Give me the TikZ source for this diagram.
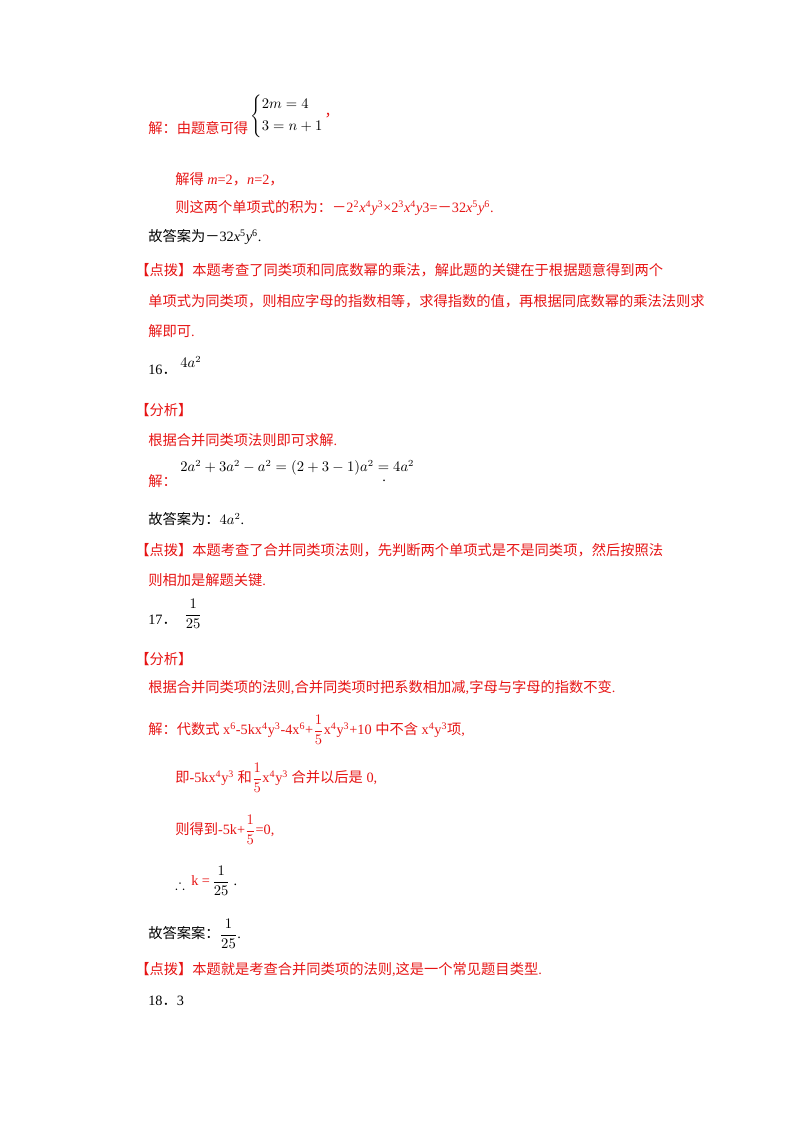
\documentclass[tikz,border=0pt]{standalone}
\usepackage{amsmath,amssymb}
\usepackage{fontspec}
\setmainfont{Liberation Serif}
\newfontfamily\cjk{Noto Sans CJK SC}
\newcommand{\zh}[1]{{\cjk #1}}
\newcommand{\sq}[1]{\textsuperscript{#1}}
\definecolor{ansred}{RGB}{230,20,20}
\begin{document}
\begin{tikzpicture}[x=0.75pt,y=-0.75pt,
  txt/.style={anchor=west,inner sep=0pt,font=\fontsize{10.7}{13}\selectfont},
  red txt/.style={txt,text=ansred},
  blk txt/.style={txt,text=black}]
  \useasboundingbox (0,0) rectangle (800,1132);
  % problem 15
  \node[red txt] (q15a) at (148,128) {\zh{解：由题意可得}};
  \node[blk txt] (q15sys) at (250,116) {$\left\{\begin{aligned}&2m=4\\&3=n+1\end{aligned}\right.$};
  \node[red txt] (q15b) at (q15sys.east) {\zh{，}};
  \node[red txt] (q15c) at (175,179) {\zh{解得} \textit{m}=2\zh{，}\textit{n}=2\zh{，}};
  \node[red txt] (q15d) at (175,208) {\zh{则这两个单项式的积为：－}2\sq{2}\textit{x}\sq{4}\textit{y}\sq{3}×2\sq{3}\textit{x}\sq{4}\textit{y}3=\zh{－}32\textit{x}\sq{5}\textit{y}\sq{6}.};
  \node[blk txt] (q15e) at (148,237) {\zh{故答案为－}32\textit{x}\sq{5}\textit{y}\sq{6}.};
  \node[red txt] (q15f) at (135,270) {\zh{【点拨】本题考查了同类项和同底数幂的乘法，解此题的关键在于根据题意得到两个}};
  \node[red txt] (q15g) at (148,301) {\zh{单项式为同类项，则相应字母的指数相等，求得指数的值，再根据同底数幂的乘法法则求}};
  \node[red txt] (q15h) at (148,331) {\zh{解即可}.};
  % problem 16
  \node[blk txt] (q16a) at (148,370) {16\zh{．}};
  \node[blk txt] (q16b) at (180,362) {$4a^2$};
  \node[red txt] (q16c) at (135,410) {\zh{【分析】}};
  \node[red txt] (q16d) at (148,440) {\zh{根据合并同类项法则即可求解}.};
  \node[red txt] (q16e) at (148,481) {\zh{解：}};
  \node[blk txt] (q16f) at (180,468) {$2a^2+3a^2-a^2=(2+3-1)a^2=4a^2$};
  \node[blk txt] (q16g) at (382,481) {.};
  \node[blk txt] (q16h) at (148,519) {\zh{故答案为：}$4a^2$.};
  \node[red txt] (q16i) at (135,550) {\zh{【点拨】本题考查了合并同类项法则，先判断两个单项式是不是同类项，然后按照法}};
  \node[red txt] (q16j) at (148,580) {\zh{则相加是解题关键}.};
  % problem 17
  \node[blk txt] (q17a) at (148,620) {17\zh{．}};
  \node[blk txt] (q17b) at (184,614) {$\dfrac{1}{25}$};
  \node[red txt] (q17c) at (135,659) {\zh{【分析】}};
  \node[red txt] (q17d) at (148,688) {\zh{根据合并同类项的法则},\zh{合并同类项时把系数相加减},\zh{字母与字母的指数不变}.};
  \node[red txt] (q17e) at (148,730) {\zh{解：代数式} x\sq{6}-5kx\sq{4}y\sq{3}-4x\sq{6}+$\dfrac{1}{5}$x\sq{4}y\sq{3}+10 \zh{中不含} x\sq{4}y\sq{3}\zh{项},};
  \node[red txt] (q17f) at (175,778) {\zh{即}-5kx\sq{4}y\sq{3} \zh{和}$\dfrac{1}{5}$x\sq{4}y\sq{3} \zh{合并以后是} 0,};
  \node[red txt] (q17g) at (175,830) {\zh{则得到}-5k+$\dfrac{1}{5}$=0,};
  \node[blk txt] (q17h) at (175,885) {$\therefore$};
  \node[red txt] (q17i) at (191,881) {k =};
  \node[blk txt] (q17j) at (212,881) {$\dfrac{1}{25}$ .};
  \node[blk txt] (q17k) at (148,934) {\zh{故答案案：}$\dfrac{1}{25}$.};
  \node[red txt] (q17l) at (135,970) {\zh{【点拨】本题就是考查合并同类项的法则},\zh{这是一个常见题目类型}.};
  % problem 18
  \node[blk txt] (q18) at (148,1001) {18\zh{．}3};
\end{tikzpicture}
\end{document}
